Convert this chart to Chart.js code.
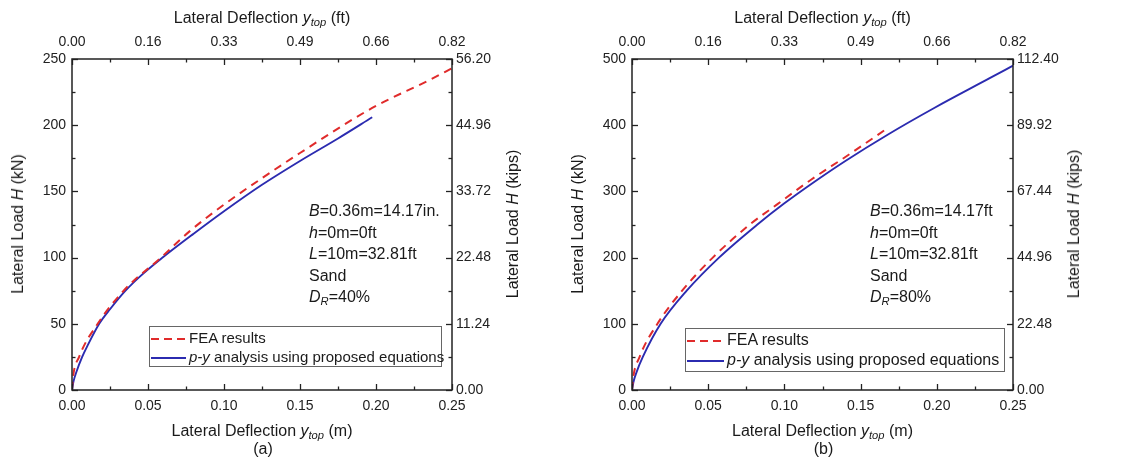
<!DOCTYPE html>
<html>
<head>
<meta charset="utf-8">
<script src="https://cdn.jsdelivr.net/npm/chart.js@4.4.1/dist/chart.umd.min.js"></script>
<style>
  body { margin: 0; background: #fff; }
  #wrap { position: relative; width: 1122px; height: 459px; font-family: "Liberation Sans", Arial, sans-serif; color: #1a1a1a; }
  canvas { position: absolute; top: 0; }
  .t { position: absolute; white-space: nowrap; font-size: 16px; line-height: 1; transform: translate(-50%, -50%); }
  .rot { transform: translate(-50%, -50%) rotate(-90deg); }
  .note { position: absolute; font-size: 16px; line-height: 21.5px; white-space: nowrap; }
  .legend { position: absolute; border: 1px solid #666; box-sizing: border-box; }
  .legend div { position: absolute; left: 1px; white-space: nowrap; height: 20px; line-height: 20px; }
  .legend svg { vertical-align: middle; margin-right: 3px; }
  sub { font-size: 0.7em; vertical-align: -0.3em; line-height: 0; }
</style>
</head>
<body>
<div id="wrap">
  <canvas id="chartA" width="561" height="459" style="left:0"></canvas>
  <canvas id="chartB" width="561" height="459" style="left:561px"></canvas>
</div>
<script>
// chart (a) D_R = 40%
const feaA_x = [0, 0.0005, 0.0047, 0.0169, 0.034, 0.0585, 0.0775, 0.100, 0.125, 0.150, 0.1975, 0.2349, 0.25];
const feaA_H = [0, 8, 25, 50, 75, 100, 120, 140, 160, 179, 213, 234, 243];
const pyA_x = [0, 0.001, 0.003, 0.0067, 0.01, 0.0179, 0.025, 0.0352, 0.045, 0.0596, 0.08, 0.10, 0.125, 0.15, 0.175, 0.1975];
const pyA_H = [0, 6.5, 14, 25, 33, 50, 61, 75, 86, 100, 118, 135, 155, 173, 190, 206];

// chart (b) D_R = 80%
const feaB_x = [0, 0.0005, 0.005, 0.0167, 0.0329, 0.053, 0.0773, 0.095, 0.1177, 0.14, 0.168];
const feaB_H = [0, 14, 50, 100, 150, 200, 250, 280, 318, 352, 396];
const pyB_x = [0, 0.001, 0.003, 0.0071, 0.0188, 0.0359, 0.0571, 0.0823, 0.10, 0.12, 0.14, 0.168, 0.1983, 0.2347, 0.25];
const pyB_H = [0, 12.5, 27, 50, 100, 150, 200, 250, 282, 315, 346, 386, 426, 471, 490];

// tick labels
const ftTickLabels = ['0.00', '0.16', '0.33', '0.49', '0.66', '0.82'];
const kipsTickLabelsA = ['0.00', '11.24', '22.48', '33.72', '44.96', '56.20'];
const kipsTickLabelsB = ['0.00', '22.48', '44.96', '67.44', '89.92', '112.40'];

const RED = '#e02b2b';
const BLUE = '#2b2bb0';
const FONT = "'Liberation Sans', Arial, sans-serif";

const pts = (xs, ys) => xs.map((x, i) => ({x: x, y: ys[i]}));

// inward ticks + frame
const innerTicks = {
  id: 'innerTicks',
  afterDraw(chart) {
    const ctx = chart.ctx, a = chart.chartArea;
    ctx.save();
    ctx.strokeStyle = '#222';
    ctx.lineWidth = 1.3;
    const draw = (id, horiz, dir) => {
      const s = chart.scales[id];
      const vals = s.ticks.map(t => t.value);
      const all = [];
      vals.forEach((v, i) => {
        all.push([v, 6]);
        if (i < vals.length - 1) all.push([(v + vals[i + 1]) / 2, 3.5]);
      });
      all.forEach(([v, len]) => {
        const p = Math.round(s.getPixelForValue(v)) + 0.5;
        ctx.beginPath();
        if (horiz) {
          const y0 = dir > 0 ? a.top : a.bottom;
          ctx.moveTo(p, y0); ctx.lineTo(p, y0 + dir * len);
        } else {
          const x0 = dir > 0 ? a.left : a.right;
          ctx.moveTo(x0, p); ctx.lineTo(x0 + dir * len, p);
        }
        ctx.stroke();
      });
    };
    draw('x', true, -1);
    draw('x2', true, 1);
    draw('y', false, 1);
    draw('y2', false, -1);
    ctx.lineWidth = 1.5;
    ctx.strokeRect(a.left, a.top, a.right - a.left, a.bottom - a.top);
    ctx.restore();
  }
};

function makeChart(id, fea, py, yMax, kipsLabels, leftW, rightW) {
  const tickFont = {family: FONT, size: 14};
  return new Chart(document.getElementById(id), {
    type: 'line',
    data: {
      datasets: [
        {label: 'FEA results', data: fea, borderColor: RED, borderWidth: 2, borderDash: [8, 6],
         pointRadius: 0, cubicInterpolationMode: 'monotone', fill: false},
        {label: 'p-y analysis using proposed equations', data: py, borderColor: BLUE, borderWidth: 1.9,
         pointRadius: 0, cubicInterpolationMode: 'monotone', fill: false}
      ]
    },
    options: {
      responsive: false,
      devicePixelRatio: 1,
      animation: false,
      layout: {padding: 0},
      plugins: {legend: {display: false}, tooltip: {enabled: false}},
      scales: {
        x: {
          type: 'linear', position: 'bottom', min: 0, max: 0.25,
          grid: {display: false, drawTicks: false}, border: {display: false},
          ticks: {stepSize: 0.05, padding: 8, color: '#222', font: tickFont, maxRotation: 0,
                  callback: v => v.toFixed(2)},
          afterFit: s => { s.height = 69; }
        },
        x2: {
          type: 'linear', position: 'top', min: 0, max: 0.25,
          grid: {display: false, drawTicks: false}, border: {display: false},
          ticks: {stepSize: 0.05, padding: 8, color: '#222', font: tickFont, maxRotation: 0,
                  callback: (v, i) => ftTickLabels[i]},
          afterFit: s => { s.height = 59; }
        },
        y: {
          position: 'left', min: 0, max: yMax,
          grid: {display: false, drawTicks: false}, border: {display: false},
          ticks: {stepSize: yMax / 5, padding: 6, color: '#222', font: tickFont},
          afterFit: s => { s.width = leftW; }
        },
        y2: {
          position: 'right', min: 0, max: yMax,
          grid: {display: false, drawTicks: false}, border: {display: false},
          ticks: {stepSize: yMax / 5, padding: 4, color: '#222', font: tickFont,
                  callback: (v, i) => kipsLabels[i]},
          afterFit: s => { s.width = rightW; }
        }
      }
    },
    plugins: [innerTicks]
  });
}

makeChart('chartA', pts(feaA_x, feaA_H), pts(pyA_x, pyA_H), 250, kipsTickLabelsA, 72, 109);
makeChart('chartB', pts(feaB_x, feaB_H), pts(pyB_x, pyB_H), 500, kipsTickLabelsB, 71, 109);

// text overlays
const wrap = document.getElementById('wrap');
function addText(html, cls, x, y) {
  const d = document.createElement('div');
  d.className = cls;
  d.style.left = x + 'px';
  d.style.top = y + 'px';
  d.innerHTML = html;
  wrap.appendChild(d);
}
const lineSvg = (w, color, dash) => '<svg width="' + w + '" height="4"><line x1="0" y1="2" x2="' + w +
  '" y2="2" stroke="' + color + '" stroke-width="1.8"' + (dash ? ' stroke-dasharray="8,5"' : '') + '/></svg>';

[
  {plotL: 72, plotR: 452, tag: '(a)', note: '<i>B</i>=0.36m=14.17in.<br><i>h</i>=0m=0ft<br><i>L</i>=10m=32.81ft<br>Sand<br><i>D<sub>R</sub></i>=40%',
   noteX: 309, legX: 149, legY: 326, legW: 293, legH: 41, legFont: 15, sample: 35, row2: 20},
  {plotL: 632, plotR: 1013, tag: '(b)', note: '<i>B</i>=0.36m=14.17ft<br><i>h</i>=0m=0ft<br><i>L</i>=10m=32.81ft<br>Sand<br><i>D<sub>R</sub></i>=80%',
   noteX: 870, legX: 685, legY: 328, legW: 320, legH: 44, legFont: 16, sample: 37, row2: 21}
].forEach(p => {
  const cx = (p.plotL + p.plotR) / 2;
  addText('Lateral Deflection <i>y<sub>top</sub></i> (ft)', 't', cx, 18);
  addText('Lateral Deflection <i>y<sub>top</sub></i> (m)', 't', cx, 431);
  addText(p.tag, 't', cx + 1, 449);
  addText('Lateral Load <i>H</i> (kN)', 't rot', p.plotL - 54, 224);
  addText('Lateral Load <i>H</i> (kips)', 't rot', p.plotR + 61, 224);
  addText(p.note, 'note', p.noteX, 200);
  const lg = document.createElement('div');
  lg.className = 'legend';
  lg.style.left = p.legX + 'px';
  lg.style.top = p.legY + 'px';
  lg.style.width = p.legW + 'px';
  lg.style.height = p.legH + 'px';
  lg.style.fontSize = p.legFont + 'px';
  lg.innerHTML = '<div style="top:1px">' + lineSvg(p.sample, RED, true) + 'FEA results</div>' +
                 '<div style="top:' + p.row2 + 'px">' + lineSvg(p.sample, BLUE, false) + '<i>p-y</i> analysis using proposed equations</div>';
  wrap.appendChild(lg);
});
</script>
</body>
</html>
